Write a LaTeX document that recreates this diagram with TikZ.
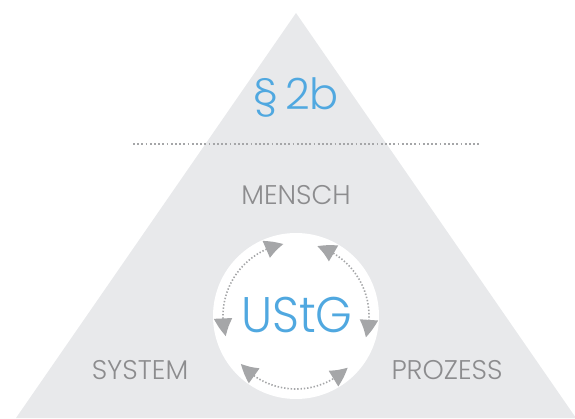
\documentclass[tikz,border=0pt]{standalone}
\usepackage{fontspec}
\setmainfont{Poppins}[UprightFont=* Light]
\usetikzlibrary{arrows.meta,bending}
\definecolor{trigray}{RGB}{232,233,235}
\definecolor{ustgblue}{RGB}{80,168,224}
\definecolor{textgray}{RGB}{140,140,142}
\definecolor{dotgray}{RGB}{165,166,168}
\begin{document}
\begin{tikzpicture}[x=1pt,y=1pt,
 word/.style={text=textgray,font=\fontsize{27}{27}\selectfont,inner sep=0pt},
 cycle/.style={dotgray,line width=1.6pt,dash pattern=on 1.4pt off 1.9pt,
   {Triangle[length=18pt,width=18pt,bend]}-{Triangle[length=18pt,width=18pt,bend]}}]
 \useasboundingbox (0,0) rectangle (575,418);
 \fill[trigray] (296,405) -- (576,0) -- (16,0) -- cycle;
 \node[word] (sec) at (296,320) {\textcolor{ustgblue}{\fontsize{43}{43}\selectfont §\,2b}};
 \coordinate (lineL) at (133,274);
 \coordinate (lineR) at (480,274);
 \draw[dotgray,line width=1.8pt,dash pattern=on 1.8pt off 2.4pt] (lineL) -- (lineR);
 \node[word] (mensch) at (296,223) {MENSCH};
 \node[circle,fill=white,minimum size=166pt,inner sep=0pt] (ring) at (296,102) {};
 \node[text=ustgblue,font=\fontsize{50}{50}\selectfont,inner sep=0pt,xscale=0.94] (ustg) at (297,103) {UStG};
 \node[word] (system) at (140,48) {SYSTEM};
 \node[word] (prozess) at (447,48) {PROZESS};
 % three double arrows round the circle
 \draw[cycle] ([shift={(100:73pt)}]ring.center) arc[start angle=100,end angle=196,radius=73pt];
 \draw[cycle] ([shift={(73:73pt)}]ring.center) arc[start angle=73,end angle=-17,radius=73pt];
 \draw[cycle] ([shift={(221:73pt)}]ring.center) arc[start angle=221,end angle=315,radius=73pt];
\end{tikzpicture}
\end{document}
